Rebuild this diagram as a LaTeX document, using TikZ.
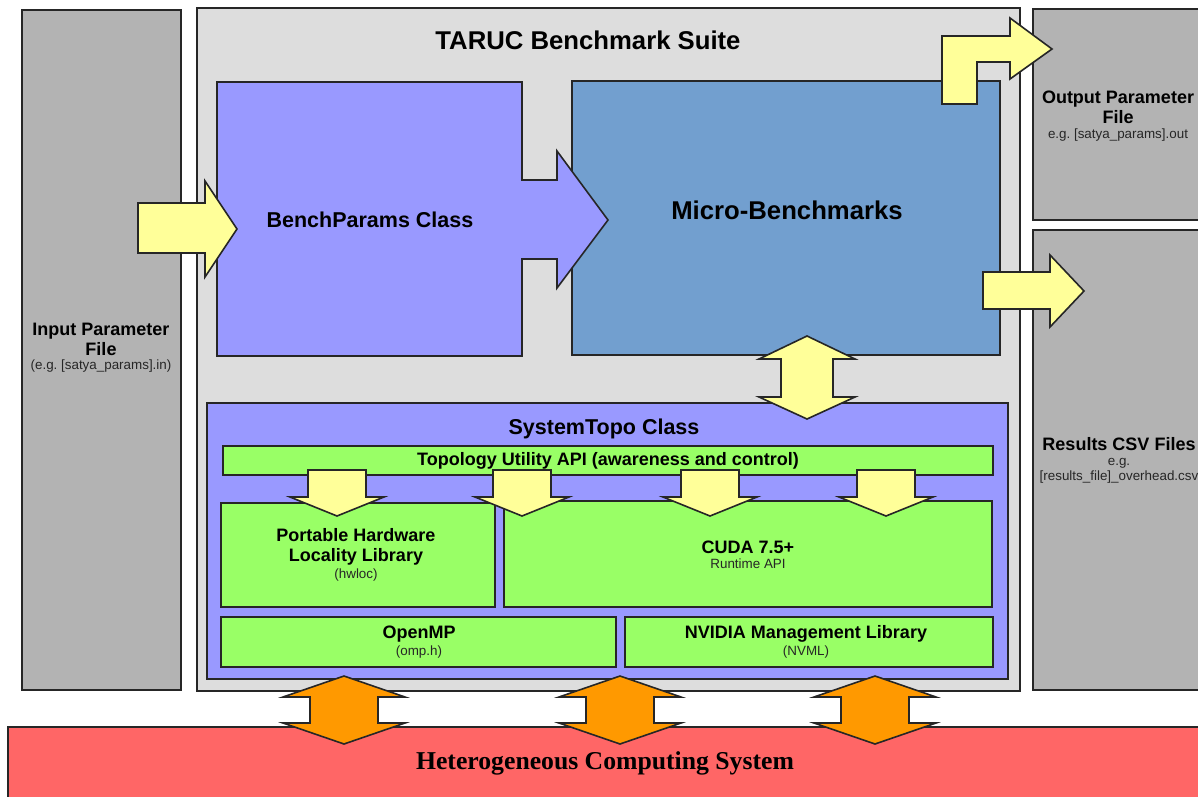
\documentclass[tikz,border=0pt]{standalone}
\usepackage{fontspec}
\setmainfont{Liberation Sans}
\newfontfamily\hcsfont{Liberation Serif}
\frenchspacing
\definecolor{filegray}{HTML}{B3B3B3}
\definecolor{suitegray}{HTML}{DDDDDD}
\definecolor{paramblue}{HTML}{9999FF}
\definecolor{microblue}{HTML}{729FCF}
\definecolor{flowyellow}{HTML}{FFFF99}
\definecolor{libgreen}{HTML}{99FF66}
\definecolor{hcsred}{HTML}{FF6666}
\definecolor{linkorange}{HTML}{FF9900}

\tikzset{
	blk/.style={draw=black!85,line width=1.6pt,line join=miter},
	ttl/.style={font=\bfseries\fontsize{25.7}{30}\selectfont},
	lbl/.style={font=\bfseries\fontsize{18}{20}\selectfont,align=center,inner sep=0pt},
	sub/.style={font=\fontsize{13.4}{15}\selectfont,text=black!85,align=center,inner sep=0pt},
}

\begin{document}
\begin{tikzpicture}[x=1pt,y=-1pt]
	\useasboundingbox (0,0) rectangle (1198,796);
	\clip (0,0) rectangle (1198,796);
	\fill[white] (0,0) rectangle (1198,796);

	% outer boxes
	\draw[blk,fill=filegray] (22,10) rectangle (181,690);
	\draw[blk,fill=filegray] (1033,9) rectangle (1220,220);
	\draw[blk,fill=filegray] (1033,230) rectangle (1220,690);
	\draw[blk,fill=suitegray] (197,8) rectangle (1020,691);
	\draw[blk,fill=hcsred] (8,727) rectangle (1220,820);

	\node[lbl] (infile) at (101,339) {Input Parameter\\File};
	\node[sub] (inex) at (101,366) {(e.g. [satya\_params].in)};
	\node[lbl] (outfile) at (1118,107) {Output Parameter\\File};
	\node[sub] (outex) at (1118,135) {e.g. [satya\_params].out};
	\node[lbl] (csv) at (1119,444) {Results CSV Files};
	\node[sub] (csvex) at (1119,471) {e.g.\\{}[results\_file]\_overhead.csv};
	\node[ttl] (suite) at (588,40) {TARUC Benchmark Suite};
	\node[font=\hcsfont\bfseries\fontsize{25.7}{30}\selectfont] (hcs) at (605,763) {Heterogeneous Computing System};

	% benchmark classes
	\draw[blk,fill=microblue] (572,81) rectangle (1000,355);
	\draw[blk,fill=paramblue] (217,82) -- (522,82) -- (522,180) -- (557,180) -- (557,151) -- (608,220)
		-- (557,288) -- (557,259) -- (522,259) -- (522,356) -- (217,356) -- cycle;
	\node[font=\bfseries\fontsize{21.5}{25}\selectfont] (params) at (370,220) {BenchParams Class};
	\node[ttl] (micro) at (787,210) {Micro-Benchmarks};

	% file arrows
	\draw[blk,fill=flowyellow] (138,203) -- (205,203) -- (205,181) -- (237,229) -- (205,277) -- (205,253) -- (138,253) -- cycle;
	\draw[blk,fill=flowyellow] (942,104) -- (942,36) -- (1010,36) -- (1010,18) -- (1052,49) -- (1010,79)
		-- (1010,62) -- (977,62) -- (977,104) -- cycle;
	\draw[blk,fill=flowyellow] (983,272) -- (1050,272) -- (1050,255) -- (1084,291) -- (1050,327) -- (1050,309) -- (983,309) -- cycle;

	% system topology
	\draw[blk,fill=paramblue] (207,403) rectangle (1008,679);
	\node[font=\bfseries\fontsize{21.5}{25}\selectfont] (topo) at (604,429) {SystemTopo Class};
	\draw[blk,fill=libgreen] (223,446) rectangle (993,475);
	\draw[blk,fill=libgreen] (221,503) rectangle (495,607);
	\draw[blk,fill=libgreen] (504,501) rectangle (992,607);
	\draw[blk,fill=libgreen] (221,617) rectangle (616,667);
	\draw[blk,fill=libgreen] (625,617) rectangle (993,667);
	\node[lbl] (api) at (608,461) {Topology Utility API (awareness and control)};
	\node[lbl] (hwloc) at (356,547) {Portable Hardware\\Locality Library};
	\node[sub] (hwlocex) at (356,575) {(hwloc)};
	\node[lbl] (cuda) at (748,547) {CUDA 7.5+};
	\node[sub] (cudaex) at (748,564) {Runtime API};
	\node[lbl] (omp) at (419,634) {OpenMP};
	\node[sub] (ompex) at (419,652) {(omp.h)};
	\node[lbl] (nvml) at (806,634) {NVIDIA Management Library};
	\node[sub] (nvmlex) at (806,652) {(NVML)};

	\foreach \x in {337,522,710,886}{
		\draw[blk,fill=flowyellow] (\x-29,470) -- (\x+29,470) -- (\x+29,497) -- (\x+47,497) -- (\x,516)
			-- (\x-47,497) -- (\x-29,497) -- cycle;
	}
	\draw[blk,fill=flowyellow] (807,336) -- (855,359) -- (833,359) -- (833,397) -- (855,397) -- (807,419)
		-- (759,397) -- (781,397) -- (781,359) -- (759,359) -- cycle;

	% links to the hardware
	\foreach \x in {344,620,875}{
		\draw[blk,fill=linkorange] (\x,676) -- (\x+61,697) -- (\x+34,697) -- (\x+34,723) -- (\x+61,723) -- (\x,744)
			-- (\x-61,723) -- (\x-34,723) -- (\x-34,697) -- (\x-61,697) -- cycle;
	}
\end{tikzpicture}
\end{document}
